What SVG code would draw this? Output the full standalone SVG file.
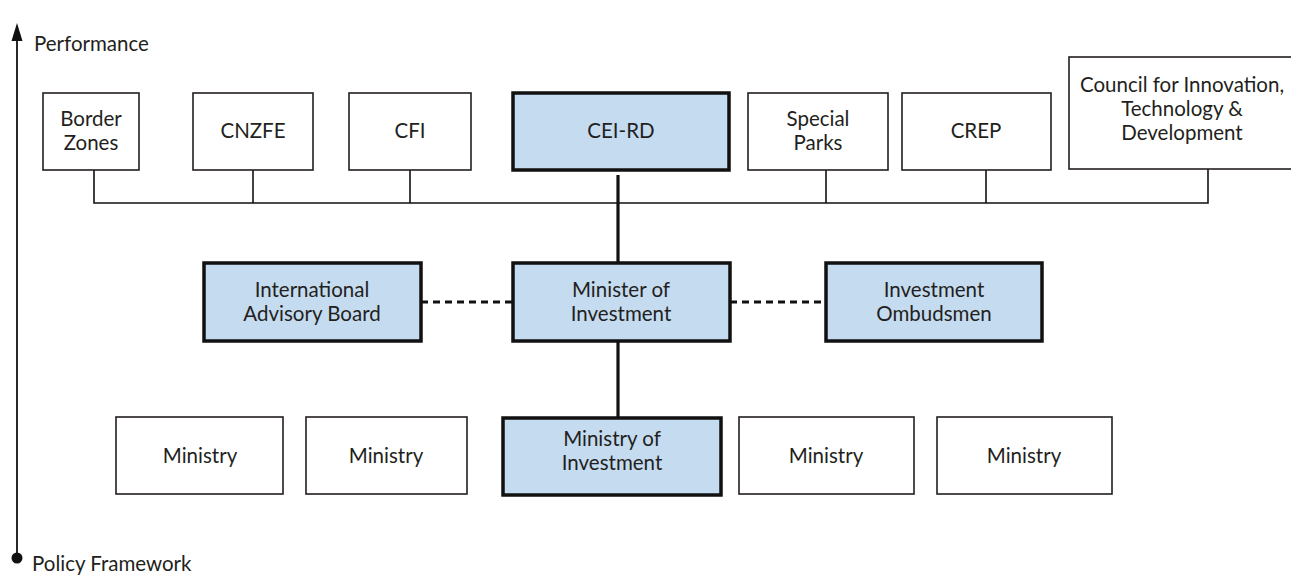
<svg xmlns="http://www.w3.org/2000/svg" width="1291" height="576" viewBox="0 0 1291 576">
<defs>
<style>
text{font-family:Lato,"Open Sans","Liberation Sans",sans-serif;font-size:20.5px;fill:#231f20;text-anchor:middle}
.ax{text-anchor:start;font-size:20.5px}
.n{fill:#fff;stroke:#231f20;stroke-width:1.6}
.h{fill:#c5dbf0;stroke:#111;stroke-width:3.5}
.thin{stroke:#111;stroke-width:1.6;fill:none}
.thick{stroke:#111;stroke-width:3.2;fill:none}
.dot{stroke:#111;stroke-width:3.2;fill:none;stroke-dasharray:7 5}
</style>
</defs>
<rect width="1291" height="576" fill="#fff"/>
<g id="axis">
<line x1="17" y1="36" x2="17" y2="558" stroke="#111" stroke-width="1.8"/>
<polygon points="17,23 11.5,41 22.5,41" fill="#111"/>
<circle cx="17" cy="558" r="5.5" fill="#111"/>
<text class="ax" x="34" y="51">Performance</text>
<text class="ax" x="32" y="571">Policy Framework</text>
</g>
<g id="connectors">
<polyline class="thin" points="94,170 94,203 1208,203 1208,169"/>
<line class="thin" x1="253" y1="170" x2="253" y2="203"/>
<line class="thin" x1="410" y1="170" x2="410" y2="203"/>
<line class="thin" x1="826" y1="170" x2="826" y2="203"/>
<line class="thin" x1="986" y1="170" x2="986" y2="203"/>
<line class="thick" x1="618" y1="175" x2="618" y2="263"/>
<line class="thick" x1="618" y1="341" x2="618" y2="418"/>
<line class="dot" x1="421" y1="302" x2="513" y2="302"/>
<line class="dot" x1="730" y1="302" x2="826" y2="302"/>
</g>
<g id="border-zones"><rect class="n" x="43" y="93" width="96" height="77"/><text x="91" y="126">Border</text><text x="91" y="150">Zones</text></g>
<g id="cnzfe"><rect class="n" x="193" y="93" width="120" height="77"/><text x="253" y="138">CNZFE</text></g>
<g id="cfi"><rect class="n" x="349" y="93" width="122" height="77"/><text x="410" y="138">CFI</text></g>
<g id="cei-rd"><rect class="h" x="513" y="93" width="216" height="77"/><text x="621" y="138">CEI-RD</text></g>
<g id="special-parks"><rect class="n" x="748" y="93" width="140" height="77"/><text x="818" y="126">Special</text><text x="818" y="150">Parks</text></g>
<g id="crep"><rect class="n" x="902" y="93" width="149" height="77"/><text x="976" y="138">CREP</text></g>
<g id="council"><rect class="n" x="1069" y="57" width="260" height="112"/><text x="1182" y="92">Council for Innovation,</text><text x="1182" y="116">Technology &amp;</text><text x="1182" y="140">Development</text></g>
<g id="iab"><rect class="h" x="204" y="263" width="217" height="78"/><text x="312" y="297">International</text><text x="312" y="321">Advisory Board</text></g>
<g id="minister"><rect class="h" x="513" y="263" width="217" height="78"/><text x="621" y="297">Minister of</text><text x="621" y="321">Investment</text></g>
<g id="ombudsmen"><rect class="h" x="826" y="263" width="216" height="78"/><text x="934" y="297">Investment</text><text x="934" y="321">Ombudsmen</text></g>
<g id="ministry-1"><rect class="n" x="116" y="417" width="167" height="77"/><text x="200" y="463">Ministry</text></g>
<g id="ministry-2"><rect class="n" x="306" y="417" width="161" height="77"/><text x="386" y="463">Ministry</text></g>
<g id="ministry-of-investment"><rect class="h" x="503" y="418" width="218" height="77"/><text x="612" y="446">Ministry of</text><text x="612" y="470">Investment</text></g>
<g id="ministry-3"><rect class="n" x="739" y="417" width="175" height="77"/><text x="826" y="463">Ministry</text></g>
<g id="ministry-4"><rect class="n" x="937" y="417" width="175" height="77"/><text x="1024" y="463">Ministry</text></g>
</svg>
